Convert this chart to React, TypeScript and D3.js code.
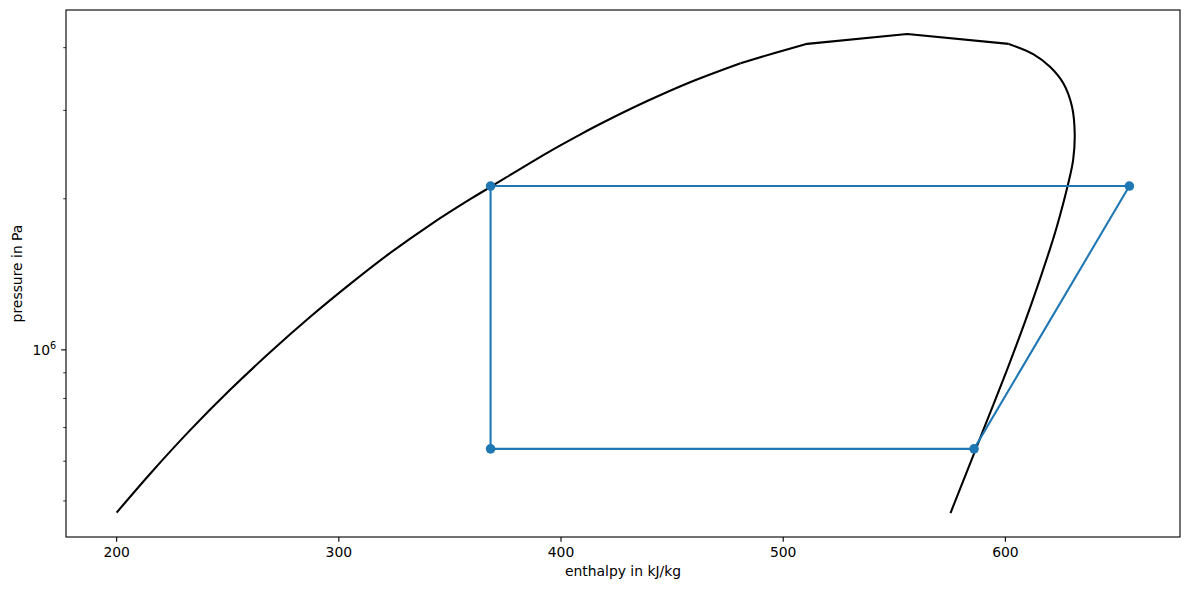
import React from "react";
import * as d3 from "d3";

// Saturation dome (enthalpy kJ/kg, pressure Pa)
// liquid side (smooth part)
const liqH = [
  200.0, 215.3, 233.3, 251.3, 269.3, 287.3, 305.3, 323.3, 341.3, 359.3,
  368.3, 393.8, 408.8, 417.8, 438.8, 458.1, 480.8,
];
const liqP = [
  4.74e5, 5.679e5, 6.935e5, 8.344e5, 9.912e5, 1.1653e6, 1.3552e6, 1.562e6, 1.7771e6, 1.9981e6,
  2.1119e6, 2.4693e6, 2.6878e6, 2.8211e6, 3.1312e6, 3.4139e6, 3.7251e6,
];
// near the critical point (straight segments)
const topH = [480.8, 495.8, 510.8, 555.8, 601.5];
const topP = [3.7251e6, 3.9e6, 4.071e6, 4.26e6, 4.07e6];
// vapour side (smooth part)
const vapH = [
  601.5, 612.7, 620.2, 626.2, 630.0, 631.2, 630.5, 628.0, 623.15, 619.9,
  611.8, 601.9, 592.5, 586.6, 575.3,
];
const vapP = [
  4.07e6, 3.88e6, 3.66e6, 3.39e6, 3.05e6, 2.7e6, 2.39e6, 2.12e6, 1.759e6, 1.58e6,
  1.238e6, 9.41e5, 7.37e5, 6.33e5, 4.73e5,
];

// Refrigeration cycle points
const cycleH = [585.9, 655.8, 368.3, 368.3, 585.9];
const cycleP = [6.35e5, 2.12e6, 2.12e6, 6.35e5, 6.35e5];

const xTicks = [200, 300, 400, 500, 600];
const yMajorTicks = [1e6];
const yMinorTicks = [5e5, 6e5, 7e5, 8e5, 9e5, 2e6, 3e6, 4e6];

const W = 1190;
const H = 590;
const left = 66;
const right = 1180;
const top = 10;
const bottom = 537;
const FONT = "DejaVu Sans";
const FS = 13.9;
const C0 = "#1f77b4";

export default function App() {
  const allH = liqH.concat(topH, vapH, cycleH);
  const allP = liqP.concat(topP, vapP, cycleP);
  const hMin = d3.min(allH)!;
  const hMax = d3.max(allH)!;
  const hm = (hMax - hMin) * 0.05;
  const lMin = Math.log10(d3.min(allP)!);
  const lMax = Math.log10(d3.max(allP)!);
  const lm = (lMax - lMin) * 0.05;

  const x = d3.scaleLinear().domain([hMin - hm, hMax + hm]).range([left, right]);
  const y = d3
    .scaleLog()
    .domain([Math.pow(10, lMin - lm), Math.pow(10, lMax + lm)])
    .range([bottom, top]);

  const mk = (hs: number[], ps: number[], smooth: boolean) => {
    const g = d3
      .line<number>()
      .x((i) => x(hs[i]))
      .y((i) => y(ps[i]));
    if (smooth) g.curve(d3.curveCatmullRom.alpha(0.5));
    return g(d3.range(hs.length))!;
  };
  const satPaths = [mk(liqH, liqP, true), mk(topH, topP, false), mk(vapH, vapP, true)];

  const cyc = d3
    .line<number>()
    .x((i) => x(cycleH[i]))
    .y((i) => y(cycleP[i]))(d3.range(cycleH.length));

  const tickLen = 4.86;
  const minorLen = 2.78;
  const pad = 4.86;

  return (
    <svg
      width={W}
      height={H}
      style={{ position: "absolute", left: 0, top: 0, display: "block", background: "#fff" }}
      fontFamily={FONT}
    >
      <rect x={0} y={0} width={W} height={H} fill="#fff" />
      <defs>
        <clipPath id="ax">
          <rect x={left} y={top} width={right - left} height={bottom - top} />
        </clipPath>
      </defs>
      <g clipPath="url(#ax)">
        {satPaths.map((d, i) => (
          <path key={i} d={d} fill="none" stroke="#000" strokeWidth={2.08} strokeLinejoin="round" />
        ))}
        <path d={cyc!} fill="none" stroke={C0} strokeWidth={2.08} strokeLinejoin="round" />
        {cycleH.slice(0, 4).map((h, i) => (
          <circle key={i} cx={x(h)} cy={y(cycleP[i])} r={4.8} fill={C0} />
        ))}
      </g>
      {/* spines */}
      <rect
        x={left}
        y={top}
        width={right - left}
        height={bottom - top}
        fill="none"
        stroke="#000"
        strokeWidth={1.11}
      />
      {/* x ticks */}
      {xTicks.map((t) => (
        <g key={t}>
          <line x1={x(t)} x2={x(t)} y1={bottom} y2={bottom + tickLen} stroke="#000" strokeWidth={1.11} />
          <text x={x(t)} y={bottom + tickLen + pad + 10.6} textAnchor="middle" fontSize={FS} fill="#000">
            {t}
          </text>
        </g>
      ))}
      <text x={(left + right) / 2} y={576.2} textAnchor="middle" fontSize={FS} fill="#000">
        enthalpy in kJ/kg
      </text>
      {/* y ticks */}
      {yMinorTicks.map((t) => (
        <line key={t} x1={left - minorLen} x2={left} y1={y(t)} y2={y(t)} stroke="#000" strokeWidth={0.83} />
      ))}
      {yMajorTicks.map((t) => (
        <g key={t}>
          <line x1={left - tickLen} x2={left} y1={y(t)} y2={y(t)} stroke="#000" strokeWidth={1.11} />
          <text x={left - tickLen - pad} y={y(t) + 5} textAnchor="end" fontSize={FS} fill="#000">
            10
            <tspan fontSize={FS * 0.7} dy={-6}>
              {Math.round(Math.log10(t))}
            </tspan>
          </text>
        </g>
      ))}
      <text
        transform={`translate(21.5, ${(top + bottom) / 2}) rotate(-90)`}
        textAnchor="middle"
        fontSize={FS}
        fill="#000"
      >
        pressure in Pa
      </text>
    </svg>
  );
}
